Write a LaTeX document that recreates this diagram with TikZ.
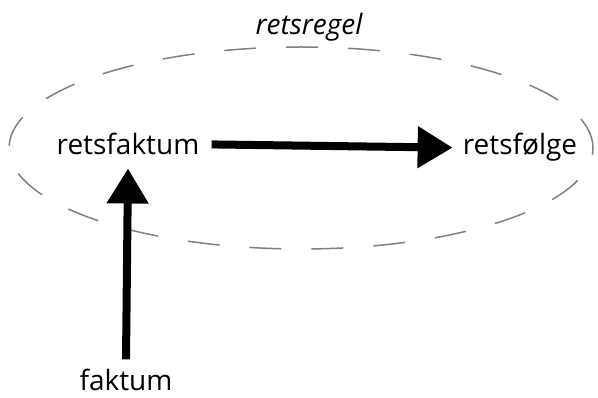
\documentclass[tikz,border=0pt]{standalone}
\usepackage{fontspec}
\setmainfont{Open Sans}
\usepackage{tikz}
\usetikzlibrary{arrows.meta, shapes.geometric, positioning}
\definecolor{rulegray}{RGB}{128,128,128}

\begin{document}
\begin{tikzpicture}[
    x=1pt, y=-1pt,
    % Node styles
    term/.style={inner sep=0pt, anchor=base, font=\fontsize{28}{32}\selectfont},
    rulename/.style={term, font=\itshape\fontsize{28}{32}\selectfont},
    rule/.style={ellipse, draw=rulegray, line width=1.5pt, dash pattern=on 32pt off 30pt,
                 minimum width=584pt, minimum height=202pt, inner sep=0pt},
    arrow/.style={line width=8pt, -{Triangle[length=35pt, width=40pt]}}
]
\useasboundingbox (0,0) rectangle (598,398);

% Rule boundary
\node (regel) [rule] at (301,148) {};
\node (regelname) [rulename] at (309,35) {retsregel};

% Terms
\node (retsfaktum) [term] at (128,155) {retsfaktum};
\node (retsfolge) [term] at (520,155) {retsfølge};
\node (faktum) [term] at (126,391) {faktum};

% Arrows
\draw [arrow] ([xshift=12pt]retsfaktum.east) -- ([xshift=-10pt]retsfolge.west);
\draw [arrow] ([yshift=10pt]faktum.north) -- ([yshift=-13pt]retsfaktum.south);

\end{tikzpicture}
\end{document}
